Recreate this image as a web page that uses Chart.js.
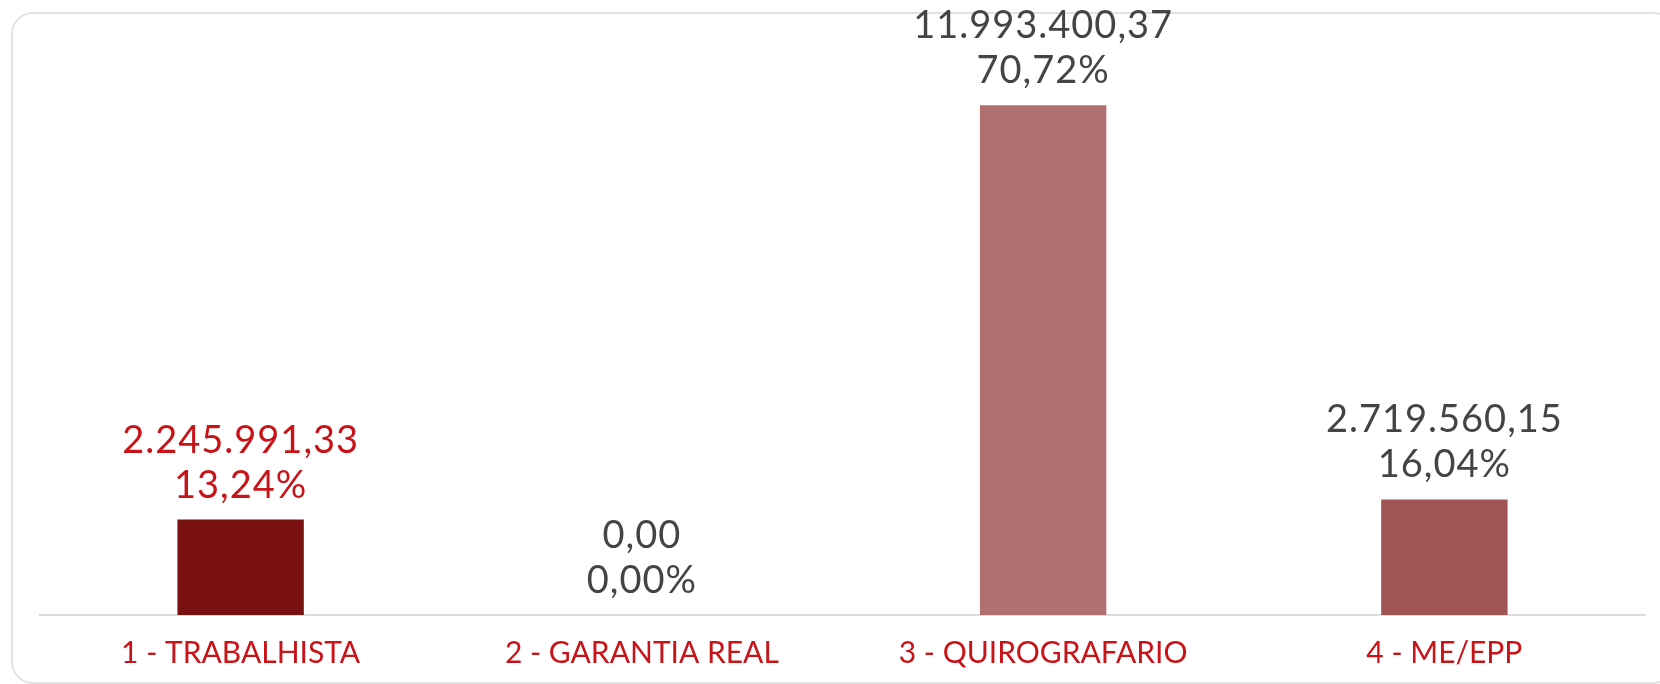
<!DOCTYPE html>
<html>
<head>
<meta charset="utf-8">
<script src="https://cdn.jsdelivr.net/npm/chart.js@4"></script>
<style>
  html, body { margin: 0; padding: 0; background: #fff; }
  body { width: 1660px; height: 684px; position: relative; overflow: hidden; }
  .card {
    position: absolute; left: 11px; top: 12px; width: 1664px; height: 672px;
    border: 2px solid #e2e2e2; border-radius: 22px; box-sizing: border-box;
  }
  .wrap { position: absolute; left: 0; top: 0; width: 1660px; height: 684px; }
</style>
</head>
<body>
<div class="card"></div>
<div class="wrap"><canvas id="myChart"></canvas></div>
<script>
const categories = ["1 - TRABALHISTA", "2 - GARANTIA REAL", "3 - QUIROGRAFARIO", "4 - ME/EPP"];
const amounts = [2245991.33, 0, 11993400.37, 2719560.15];
const percents = [13.24, 0.0, 70.72, 16.04];
const barColors = ["rgb(122, 17, 17)", "rgb(160, 85, 85)", "rgb(176, 112, 112)", "rgb(160, 85, 85)"];
const labelColors = ["rgb(200, 20, 25)", "#444444", "#444444", "#444444"];

function formatBR(n) {
  const parts = n.toFixed(2).split(".");
  parts[0] = parts[0].replace(/\B(?=(\d{3})+(?!\d))/g, ".");
  return parts[0] + "," + parts[1];
}

// two-line value label above each bar
const valueLabels = {
  id: "valueLabels",
  afterDatasetsDraw(chart) {
    const ctx = chart.ctx;
    const meta = chart.getDatasetMeta(0);
    ctx.save();
    ctx.font = "38px Lato";
    ctx.letterSpacing = "1px";
    ctx.textAlign = "center";
    ctx.textBaseline = "alphabetic";
    meta.data.forEach((bar, i) => {
      ctx.fillStyle = labelColors[i];
      const top = bar.y;
      ctx.fillText(formatBR(amounts[i]), bar.x, top - 67);
      ctx.fillText(formatBR(percents[i]) + "%", bar.x, top - 22);
    });
    ctx.restore();
  },
};

const ctx = document.getElementById("myChart");

new Chart(ctx, {
  type: "bar",
  data: {
    labels: categories,
    datasets: [
      {
        data: amounts,
        backgroundColor: barColors,
        barPercentage: 0.315,
        categoryPercentage: 1,
      },
    ],
  },
  plugins: [valueLabels],
  options: {
    responsive: true,
    maintainAspectRatio: false,
    animation: false,
    layout: {
      padding: { left: 40, right: 15, top: 20, bottom: -7 },
    },
    plugins: {
      legend: { display: false },
      tooltip: { enabled: false },
    },
    scales: {
      y: {
        display: false,
        beginAtZero: true,
        max: 14000000,
      },
      x: {
        grid: {
          display: false,
          drawTicks: false,
        },
        border: {
          display: true,
          color: "#dddddd",
          width: 2,
        },
        ticks: {
          color: "rgb(200, 20, 25)",
          padding: 20,
          font: { family: "Lato", size: 30 },
        },
      },
    },
  },
});
</script>
</body>
</html>
